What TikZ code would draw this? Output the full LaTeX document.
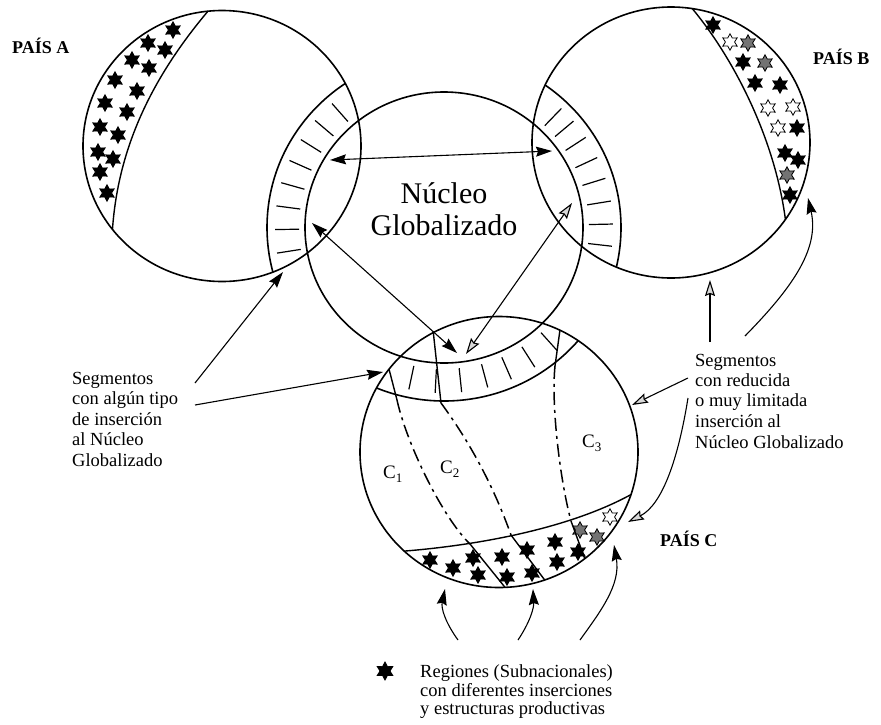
\documentclass[tikz,border=0pt]{standalone}
\usepackage{fontspec}
\setmainfont{Liberation Serif}
\usetikzlibrary{shapes.geometric,arrows.meta,calc}
\tikzset{
  ring/.style={line width=1.6pt},
  hatch/.style={line width=1.2pt},
  meridian/.style={line width=1.4pt},
  divsolid/.style={line width=1.4pt},
  divdash/.style={line width=1.5pt, dash pattern=on 13pt off 5pt on 3pt off 5pt},
  conn/.style={line width=1.1pt},
  tipf/.style={arrows={-Stealth[length=16pt,width=10pt,inset=2pt]}},
  tipff/.style={arrows={Stealth[length=16pt,width=10pt,inset=2pt]-Stealth[length=16pt,width=10pt,inset=2pt]}},
  tiph/.style={arrows={-Stealth[length=16pt,width=10pt,inset=2pt,fill=gray!30]}},
  tiphh/.style={arrows={Stealth[length=16pt,width=10pt,inset=2pt,fill=gray!30]-Stealth[length=16pt,width=10pt,inset=2pt,fill=gray!30]}},
  starbase/.style={star, star points=6, star point ratio=1.8, minimum size=16.5pt, inner sep=0pt, line width=0.8pt, draw=black},
  starf/.style={starbase, fill=black},
  stard/.style={starbase, fill=black!55},
  starh/.style={starbase, fill=white},
  lbl/.style={font=\fontsize{18.5}{20.5}\selectfont, anchor=base west, inner sep=0pt},
  pais/.style={font=\bfseries\fontsize{18}{20}\selectfont, anchor=base west, inner sep=0pt},
  core/.style={font=\fontsize{30}{32}\selectfont, anchor=base, inner sep=0pt},
  clab/.style={font=\fontsize{19}{20}\selectfont, anchor=base west, inner sep=0pt},
}
\begin{document}
\begin{tikzpicture}[x=1pt,y=-1pt]
\useasboundingbox (0,0) rectangle (881,724);
\fill[white] (0,0) rectangle (881,724);
\coordinate (A) at (222,146);
\coordinate (B) at (671,142.5);
\coordinate (C) at (499,452);
\coordinate (N) at (444,227.5);

% stars
\foreach \x/\y [count=\i] in {173/30,148/43,165/50,132/60,149/68,115/80,137/91,105/103,127/112,100/127,118/135,98/152,113/159,100/172,107/193}
  \node[starf] (sa\i) at (\x,\y) {};
\foreach \x/\y [count=\i] in {713/25,743/62,755/83,780/85,797/128,785/153,798/160,790/195}
  \node[starf] (sbf\i) at (\x,\y) {};
\foreach \x/\y [count=\i] in {765/63,787/175,748/43}
  \node[stard] (sbd\i) at (\x,\y) {};
\foreach \x/\y [count=\i] in {730/42,768/108,793/107,778/128}
  \node[starh] (sbh\i) at (\x,\y) {};
\foreach \x/\y [count=\i] in {430/560,453/568,473/558,478/575,502/557,507/577,527/550,532/573,555/542,557/562,578/552}
  \node[starf] (sc\i) at (\x,\y) {};
\foreach \x/\y [count=\i] in {580/530,597/537}
  \node[stard] (scd\i) at (\x,\y) {};
\node[starh] (sch1) at (610,517) {};

% circles
\draw[ring] (A) ellipse [x radius=139, y radius=135.5];
\draw[ring] (B) ellipse [x radius=139, y radius=135.5];
\draw[ring] (C) ellipse [x radius=139, y radius=135.5];
\draw[ring] (N) ellipse [x radius=139, y radius=135.5];

% bands around the core
\begin{scope}
  \clip (A) ellipse [x radius=139, y radius=135.5];
  \draw[ring] (N) ellipse [x radius=177, y radius=173.5];
  \foreach \a in {131.5,139.7,147.9,156.1,164.3,172.5,180.7,188.9}
    \draw[hatch] ($(N)+(-\a:145 and 141.5)$) -- ($(N)+(-\a:169 and 165.5)$);
\end{scope}
\begin{scope}
  \clip (B) ellipse [x radius=139, y radius=135.5];
  \draw[ring] (N) ellipse [x radius=177, y radius=173.5];
  \foreach \a in {46,40,33,25,17.3,9.2,1.2,-6.5}
    \draw[hatch] ($(N)+(-\a:145 and 141.5)$) -- ($(N)+(-\a:169 and 165.5)$);
\end{scope}
\begin{scope}
  \clip (C) ellipse [x radius=139, y radius=135.5];
  \draw[ring] (N) ellipse [x radius=177, y radius=173.5];
  \foreach \a in {258,267,276,285,293.5,302.5,312}
    \draw[hatch] ($(N)+(-\a:145 and 141.5)$) -- ($(N)+(-\a:169 and 165.5)$);
\end{scope}

% star-band boundaries
\draw[meridian] ($(A)+(-95.8:139 and 135.5)$) .. controls (150,80) and (118,150) .. ($(A)+(142:139 and 135.5)$);
\draw[meridian] ($(B)+(-81.2:139 and 135.5)$) .. controls (735,60) and (775,140) .. ($(B)+(34.6:139 and 135.5)$);
\draw[meridian] ($(C)+(133:139 and 135.5)$) .. controls (480,545) and (570,528) .. ($(C)+(18.3:139 and 135.5)$);

% dividing lines in country C
\coordinate (d1a) at ($(C)+(-142.3:139 and 135.5)$);
\coordinate (d1b) at (397,400);
\coordinate (d1c) at (470,544);
\coordinate (d1d) at ($(C)+(87.5:139 and 135.5)$);
\draw[divsolid] (d1a) -- (d1b);
\draw[divdash] (d1b) .. controls (407,445) and (443,518) .. (d1c);
\draw[divsolid] (d1c) -- (d1d);
\coordinate (d2a) at ($(C)+(-118.2:139 and 135.5)$);
\coordinate (d2b) at (441,403);
\coordinate (d2c) at (511,535);
\coordinate (d2d) at ($(C)+(70.8:139 and 135.5)$);
\draw[divsolid] (d2a) -- (d2b);
\draw[divdash] (d2b) .. controls (472,445) and (495,490) .. (d2c);
\draw[divsolid] (d2c) -- (d2d);
\coordinate (d3a) at ($(C)+(-64:139 and 135.5)$);
\coordinate (d3b) at (555,366);
\coordinate (d3c) at (571,521);
\coordinate (d3d) at ($(C)+(51.9:139 and 135.5)$);
\draw[divsolid] (d3a) -- (d3b);
\draw[divdash] (d3b) .. controls (551,405) and (560,480) .. (d3c);
\draw[divsolid] (d3c) -- (d3d);

% core arrows
\coordinate (a1) at (330,160); \coordinate (a2) at (552,151);
\draw[conn,tipff] (a1) -- (a2);
\coordinate (a3) at (312,223); \coordinate (a4) at (457,353);
\draw[conn,tipff] (a3) -- (a4);
\coordinate (a5) at (572,203); \coordinate (a6) at (466,354);
\draw[conn,tiphh] (a5) -- (a6);

% left label arrows
\coordinate (l1s) at (195,383); \coordinate (l1e) at (283,272);
\draw[conn,tipf] (l1s) -- (l1e);
\coordinate (l2s) at (195,405); \coordinate (l2e) at (383,372);
\draw[conn,tipf] (l2s) -- (l2e);

% right label arrows
\coordinate (r1s) at (688,378); \coordinate (r1e) at (632,405);
\draw[conn,tiph] (r1s) -- (r1e);
\coordinate (r2s) at (710,342); \coordinate (r2e) at (710,280);
\draw[conn,tiph] (r2s) -- (r2e);
\coordinate (r3s) at (745,336); \coordinate (r3e) at (808,198);
\draw[conn,tipf] (r3s) .. controls (790,290) and (820,250) .. (r3e);
\coordinate (r4s) at (688,398); \coordinate (r4e) at (628,522);
\draw[conn,tiph] (r4s) .. controls (678,460) and (662,505) .. (r4e);

% bottom arrows
\coordinate (b1s) at (458,640); \coordinate (b1e) at (445,589);
\draw[conn,tipf] (b1s) .. controls (445,622) and (441,608) .. (b1e);
\coordinate (b2s) at (518,640); \coordinate (b2e) at (533,589);
\draw[conn,tipf] (b2s) .. controls (530,622) and (534,608) .. (b2e);
\coordinate (b3s) at (580,640); \coordinate (b3e) at (614,545);
\draw[conn,tipf] (b3s) .. controls (600,612) and (621,585) .. (b3e);

% texts
\node[core] (core1) at (444,203) {Núcleo};
\node[core] (core2) at (444,235) {Globalizado};
\node[pais] (paisA) at (12,53) {PAÍS A};
\node[pais] (paisB) at (813,64) {PAÍS B};
\node[pais] (paisC) at (660,546) {PAÍS C};
\node[clab] (c1) at (383,478) {C\raisebox{-4pt}{\fontsize{13}{13}\selectfont 1}};
\node[clab] (c2) at (440,473) {C\raisebox{-4pt}{\fontsize{13}{13}\selectfont 2}};
\node[clab] (c3) at (582,447) {C\raisebox{-4pt}{\fontsize{13}{13}\selectfont 3}};

\node[lbl] (L1) at (72,384) {Segmentos};
\node[lbl] (L2) at (72,404.5) {con algún tipo};
\node[lbl] (L3) at (72,425) {de inserción};
\node[lbl] (L4) at (72,445.5) {al Núcleo};
\node[lbl] (L5) at (72,466) {Globalizado};

\node[lbl] (R1) at (695,366) {Segmentos};
\node[lbl] (R2) at (695,386.5) {con reducida};
\node[lbl] (R3) at (695,406) {o muy limitada};
\node[lbl] (R4) at (695,427) {inserción al};
\node[lbl] (R5) at (695,448) {Núcleo Globalizado};

\node[starf, minimum size=18pt] (legstar) at (385,671) {};
\node[lbl] (G1) at (420,677) {Regiones (Subnacionales)};
\node[lbl] (G2) at (420,696) {con diferentes inserciones};
\node[lbl] (G3) at (420,714) {y estructuras productivas};
\end{tikzpicture}
\end{document}
